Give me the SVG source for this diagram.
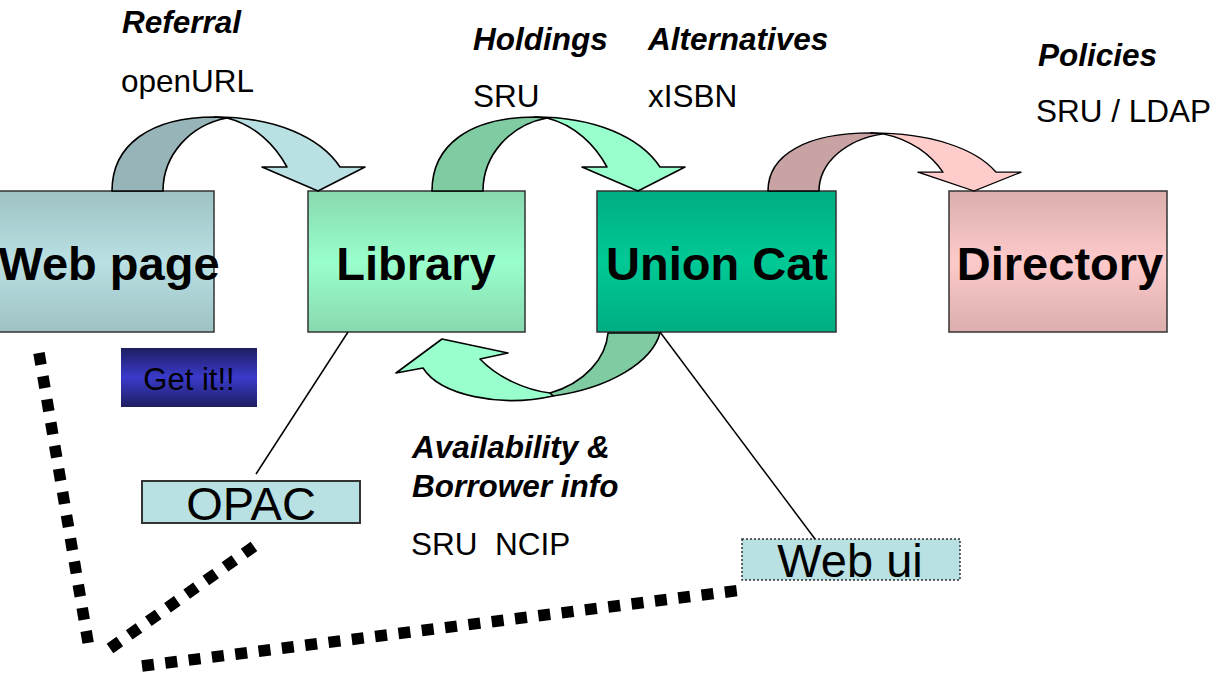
<svg xmlns="http://www.w3.org/2000/svg" width="1214" height="674" viewBox="0 0 1214 674">
<defs>
<linearGradient id="gWeb" x1="0" y1="0" x2="0" y2="1"><stop offset="0" stop-color="#9ec2c4"/><stop offset="0.5" stop-color="#bae0e3"/><stop offset="1" stop-color="#9ec2c4"/></linearGradient>
<linearGradient id="gLib" x1="0" y1="0" x2="0" y2="1"><stop offset="0" stop-color="#88d9ad"/><stop offset="0.5" stop-color="#99ffcc"/><stop offset="1" stop-color="#88d9ad"/></linearGradient>
<linearGradient id="gUni" x1="0" y1="0" x2="0" y2="1"><stop offset="0" stop-color="#00ae83"/><stop offset="0.5" stop-color="#00c996"/><stop offset="1" stop-color="#00ae83"/></linearGradient>
<linearGradient id="gDir" x1="0" y1="0" x2="0" y2="1"><stop offset="0" stop-color="#dcaeae"/><stop offset="0.5" stop-color="#fdcaca"/><stop offset="1" stop-color="#dcaeae"/></linearGradient>
<linearGradient id="gGet" x1="0" y1="0" x2="0" y2="1"><stop offset="0" stop-color="#1e1e60"/><stop offset="0.5" stop-color="#3a3acc"/><stop offset="1" stop-color="#1e1e60"/></linearGradient>
<g id="arrowDark"><path d="M0,0 C0,-46 38,-74 103,-74 L115,-73 C78,-66 51,-36 51,0 Z"/></g>
<g id="arrowLight"><path d="M103,-74 C163,-74 208,-54 228,-24 L253,-24 L206,0 L150,-24 L175,-24 C163,-46 143,-66 115,-73 Z"/></g>
</defs>
<style>
.box{stroke:#333;stroke-width:1.5}
.lbl{font-family:"Liberation Sans",Arial,sans-serif;font-weight:bold;font-size:47px;fill:#000;text-anchor:middle}
.bi{font-family:"Liberation Sans",Arial,sans-serif;font-weight:bold;font-style:italic;font-size:31.5px;fill:#000}
.rg{font-family:"Liberation Sans",Arial,sans-serif;font-size:31.5px;fill:#000;white-space:pre}
.arw{stroke:#000;stroke-width:1.6;stroke-linejoin:round;vector-effect:non-scaling-stroke}
.thin{stroke:#000;stroke-width:1.5;fill:none}
.dots{stroke:#000;stroke-width:11.5;fill:none;stroke-dasharray:12 11.5}
.small{font-family:"Liberation Sans",Arial,sans-serif;fill:#000;text-anchor:middle}
</style>

<g id="webpage"><rect class="box" x="-3" y="191" width="217" height="141" fill="url(#gWeb)"/><text class="lbl" x="109" y="280" font-size="46">Web page</text></g>
<g id="library"><rect class="box" x="308" y="191" width="217" height="141" fill="url(#gLib)"/><text class="lbl" x="416" y="280">Library</text></g>
<g id="unioncat"><rect class="box" x="597" y="191" width="239" height="141" fill="url(#gUni)"/><text class="lbl" x="717" y="280">Union Cat</text></g>
<g id="directory"><rect class="box" x="949" y="191" width="218" height="141" fill="url(#gDir)"/><text class="lbl" x="1060" y="280">Directory</text></g>
<g id="getit"><rect x="121" y="348" width="136" height="59" fill="url(#gGet)"/><text class="small" x="189" y="390" font-size="31">Get it!!</text></g>
<g id="opac"><rect x="142" y="481" width="218" height="42" fill="#b9e0e3" stroke="#333" stroke-width="2"/><text class="small" x="251" y="520" font-size="47">OPAC</text></g>
<g id="webui"><rect x="742" y="539" width="218" height="41" fill="#b9e0e3" stroke="#333" stroke-width="1.5" stroke-dasharray="2 2"/><text class="small" x="850" y="577" font-size="47">Web ui</text></g>

<g id="connectors">
<g transform="translate(112,191)"><use href="#arrowDark" class="arw" fill="#97b4b8"/><use href="#arrowLight" class="arw" fill="#b9e0e3"/></g>
<g transform="translate(432,191)"><use href="#arrowDark" class="arw" fill="#7fcca3"/><use href="#arrowLight" class="arw" fill="#99ffcc"/></g>
<g transform="translate(768,191) scale(1,0.784)"><use href="#arrowDark" class="arw" fill="#c9a3a3"/><use href="#arrowLight" class="arw" fill="#ffcccc"/></g>
<path class="arw" fill="#7fcca3" d="M608,333 C606,358 585,383 550,393 L553,396 C610,388 652,362 660,333 Z"/>
<path class="arw" fill="#99ffcc" d="M550,393 C525,390 497,377 480,359 L508,353 L442,339 L396,373 L423,368 C440,395 500,408 553,396 Z"/>
<line class="thin" x1="348" y1="332" x2="256" y2="474"/>
<line class="thin" x1="660" y1="332" x2="815" y2="539"/>
<line class="dots" x1="39" y1="353" x2="89" y2="648"/>
<line class="dots" x1="110" y1="648.5" x2="258" y2="543.5"/>
<line class="dots" x1="142" y1="666" x2="742" y2="590"/>
</g>

<g id="labels">
<text class="bi" x="122" y="33">Referral</text>
<text class="rg" x="121" y="92">openURL</text>
<text class="bi" x="473" y="50">Holdings</text>
<text class="rg" x="473" y="107">SRU</text>
<text class="bi" x="648" y="50">Alternatives</text>
<text class="rg" x="648" y="107">xISBN</text>
<text class="bi" x="1038" y="66">Policies</text>
<text class="rg" x="1036" y="122">SRU / LDAP</text>
<text class="bi" x="412" y="458">Availability &amp;</text>
<text class="bi" x="412" y="497">Borrower info</text>
<text class="rg" x="411" y="555">SRU  NCIP</text>
</g>
</svg>
